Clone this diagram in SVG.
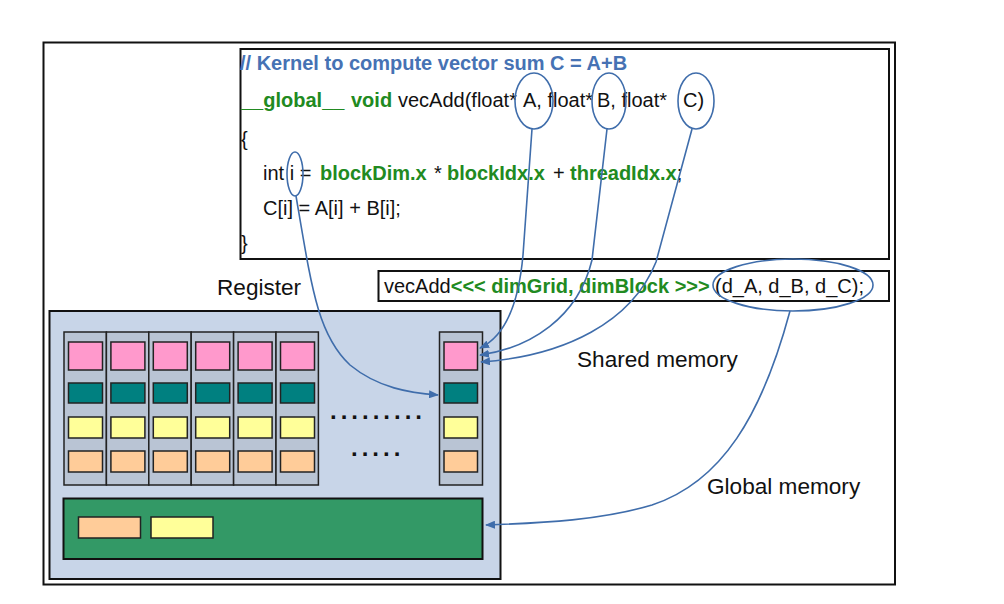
<svg xmlns="http://www.w3.org/2000/svg" width="1004" height="604" viewBox="0 0 1004 604">
<style>
.frame{fill:#fff;stroke:#111;stroke-width:2}
.code{font-family:"Liberation Sans",Arial,sans-serif;font-size:20px;fill:#111}
.kw{font-weight:bold;fill:#218a21}
.cm{font-weight:bold;fill:#4672b4}
.lbl{font-family:"Liberation Sans",Arial,sans-serif;font-size:22.6px;fill:#111}
.col{fill:#b9c4d4;stroke:#222;stroke-width:1.5}
.pink{fill:#ff99cc;stroke:#222;stroke-width:1.5}
.teal{fill:#008080;stroke:#222;stroke-width:1.5}
.yel{fill:#ffff99;stroke:#222;stroke-width:1.5}
.org{fill:#ffcc99;stroke:#222;stroke-width:1.5}
.conn{fill:none;stroke:#3f6dab;stroke-width:1.6}
.dots{font-family:"Liberation Sans",Arial,sans-serif;font-size:24px;font-weight:bold;fill:#111;letter-spacing:4px}
</style>
<defs>
<marker id="arr" markerUnits="userSpaceOnUse" markerWidth="10" markerHeight="8" refX="9" refY="4" orient="auto">
<path d="M0,0 L10,4 L0,8 Z" fill="#3f6dab"/>
</marker>
</defs>
<rect width="1004" height="604" fill="#fff"/>
<rect id="outer" class="frame" x="43.5" y="42.5" width="851.5" height="542"/>

<g id="kernel-code">
<rect class="frame" x="240.5" y="49" width="648.5" height="210"/>
<text class="code" x="240" y="70"><tspan class="cm">// Kernel to compute vector sum C = A+B</tspan></text>
<text class="code" y="107"><tspan class="kw" x="241">__global__</tspan><tspan class="kw" x="351">void</tspan><tspan x="398">vecAdd(float* </tspan><tspan x="523">A, float* </tspan><tspan x="597">B, float* </tspan><tspan x="683">C)</tspan></text>
<text class="code" x="241" y="146">{</text>
<text class="code" y="180"><tspan x="263">int i = </tspan><tspan class="kw" x="320">blockDim.x</tspan><tspan x="434">*</tspan><tspan class="kw" x="447">blockIdx.x</tspan><tspan x="553">+</tspan><tspan class="kw" x="570">threadIdx.x</tspan><tspan>;</tspan></text>
<text class="code" x="263" y="215">C[i] = A[i] + B[i];</text>
<text class="code" x="241" y="250">}</text>
</g>

<g id="launch">
<rect class="frame" x="378.5" y="271" width="510.5" height="30"/>
<text class="code" x="384" y="293">vecAdd<tspan class="kw">&lt;&lt;&lt; dimGrid, dimBlock &gt;&gt;&gt;</tspan><tspan x="715">(d_A, d_B, d_C);</tspan></text>
</g>

<g id="sm-panel">
<rect x="49.5" y="311" width="451" height="268" fill="#c8d5e8" stroke="#111" stroke-width="2"/>
</g>

<g id="threads">
<g id="t1"><rect class="col" x="64" y="332" width="42.4" height="153"/><rect class="pink" x="68.5" y="342" width="34" height="28"/><rect class="teal" x="68.5" y="383" width="34" height="20"/><rect class="yel" x="68.5" y="417" width="34" height="21"/><rect class="org" x="68.5" y="451" width="34" height="21"/></g>
<g id="t2"><rect class="col" x="106.4" y="332" width="42.4" height="153"/><rect class="pink" x="110.9" y="342" width="34" height="28"/><rect class="teal" x="110.9" y="383" width="34" height="20"/><rect class="yel" x="110.9" y="417" width="34" height="21"/><rect class="org" x="110.9" y="451" width="34" height="21"/></g>
<g id="t3"><rect class="col" x="148.8" y="332" width="42.4" height="153"/><rect class="pink" x="153.3" y="342" width="34" height="28"/><rect class="teal" x="153.3" y="383" width="34" height="20"/><rect class="yel" x="153.3" y="417" width="34" height="21"/><rect class="org" x="153.3" y="451" width="34" height="21"/></g>
<g id="t4"><rect class="col" x="191.2" y="332" width="42.4" height="153"/><rect class="pink" x="195.7" y="342" width="34" height="28"/><rect class="teal" x="195.7" y="383" width="34" height="20"/><rect class="yel" x="195.7" y="417" width="34" height="21"/><rect class="org" x="195.7" y="451" width="34" height="21"/></g>
<g id="t5"><rect class="col" x="233.6" y="332" width="42.4" height="153"/><rect class="pink" x="238.1" y="342" width="34" height="28"/><rect class="teal" x="238.1" y="383" width="34" height="20"/><rect class="yel" x="238.1" y="417" width="34" height="21"/><rect class="org" x="238.1" y="451" width="34" height="21"/></g>
<g id="t6"><rect class="col" x="276" y="332" width="42.4" height="153"/><rect class="pink" x="280.5" y="342" width="34" height="28"/><rect class="teal" x="280.5" y="383" width="34" height="20"/><rect class="yel" x="280.5" y="417" width="34" height="21"/><rect class="org" x="280.5" y="451" width="34" height="21"/></g>
<g id="tn"><rect class="col" x="439.5" y="332" width="43" height="153"/><rect class="pink" x="444" y="342" width="33.5" height="28"/><rect class="teal" x="444" y="383" width="33.5" height="20"/><rect class="yel" x="444" y="417" width="33.5" height="21"/><rect class="org" x="444" y="451" width="33.5" height="21"/></g>
<text class="dots" x="330" y="419">.........</text>
<text class="dots" x="351" y="456">.....</text>
</g>

<g id="global-mem">
<rect x="63.5" y="498.5" width="419" height="60.5" fill="#339966" stroke="#111" stroke-width="2"/>
<rect class="org" x="78.5" y="517" width="62" height="21"/>
<rect class="yel" x="151" y="517" width="62" height="21"/>
</g>

<g id="labels">
<text class="lbl" x="217" y="295">Register</text>
<text class="lbl" x="577" y="367">Shared memory</text>
<text class="lbl" x="707" y="494">Global memory</text>
</g>

<g id="connectors">
<ellipse class="conn" cx="534" cy="101" rx="19" ry="28"/>
<ellipse class="conn" cx="609" cy="101" rx="17" ry="28"/>
<ellipse class="conn" cx="696" cy="101" rx="18" ry="28"/>
<ellipse class="conn" cx="295" cy="174" rx="8" ry="22"/>
<ellipse class="conn" cx="793" cy="285" rx="80" ry="26"/>
<path class="conn" marker-end="url(#arr)" d="M532,129 L523,255 C519,300 506,336 480,348"/>
<path class="conn" marker-end="url(#arr)" d="M607,129 L592,260 C578,318 530,348 480,355"/>
<path class="conn" marker-end="url(#arr)" d="M692,129 L656,262 C632,322 565,356 481,362"/>
<path class="conn" marker-end="url(#arr)" d="M296,196 C312,290 318,335 350,365 C378,388 410,393 438,395"/>
<path class="conn" marker-end="url(#arr)" d="M790,311 C762,415 722,482 652,505 C602,520 545,523 486,525"/>
</g>
</svg>
